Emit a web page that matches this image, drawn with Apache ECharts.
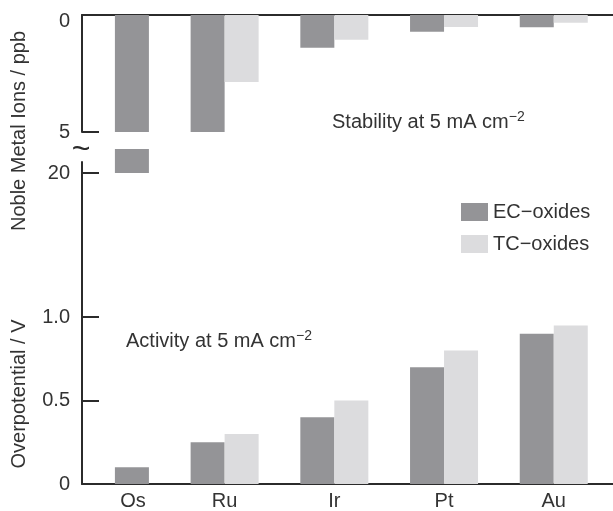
<!DOCTYPE html>
<html>
<head>
<meta charset="utf-8">
<script src="https://cdn.jsdelivr.net/npm/echarts@6/dist/echarts.min.js"></script>
</head>
<body style="margin:0">
<div id="main" style="width:613px;height:511px;"></div>
<script>
var categories = ['Os', 'Ru', 'Ir', 'Pt', 'Au'];
// dissolved noble metal ions, ppb (Os runs past the axis break)
var ecStability = [20, 5, 1.4, 0.72, 0.52];
var tcStability = [null, 2.86, 1.06, 0.51, 0.33];
// overpotential, V
var ecActivity = [0.1, 0.25, 0.4, 0.7, 0.9];
var tcActivity = [null, 0.3, 0.5, 0.8, 0.95];
var stabilityTicks = [0, 5];
var breakTicks = [20];
var activityTicks = [0, 0.5, 1];
var breakAt = 5;

var EC = '#949497', TC = '#dcdcde', INK = '#2b2b2b', TXT = '#333';
var FONT = 'Liberation Sans';
var chart = echarts.init(document.getElementById('main'));

// EC bar left, TC bar right; an EC bar with no TC partner takes the right slot
function pairData(ec, tc, pick) {
  var ecData = [], tcData = [];
  ec.forEach(function (v, i) {
    var a = pick(v);
    if (tc[i] == null) {
      if (a != null) tcData.push({ value: [i, a], itemStyle: { color: EC } });
      return;
    }
    var b = pick(tc[i]);
    if (a != null) ecData.push([i, a]);
    if (b != null) tcData.push([i, b]);
  });
  return [ecData, tcData];
}

function bars(d, idx) {
  return [
    { name: 'EC−oxides', type: 'bar', xAxisIndex: idx, yAxisIndex: idx, data: d[0],
      barWidth: 34, barGap: 0, itemStyle: { color: EC }, silent: true },
    { name: 'TC−oxides', type: 'bar', xAxisIndex: idx, yAxisIndex: idx, data: d[1],
      barWidth: 34, barGap: 0, itemStyle: { color: TC }, silent: true }
  ];
}

var below = function (v) { return Math.min(v, breakAt); };
var above = function (v) { return v > breakAt ? v : null; };
var same = function (v) { return v; };

var axisLine = { show: true, onZero: false, lineStyle: { color: INK, width: 2 } };
var tick = { show: true, inside: true, length: 17, lineStyle: { color: INK, width: 2 } };
var lbl = { fontSize: 20, color: TXT, fontFamily: FONT, margin: 12 };

function xAx(idx, extra) {
  return Object.assign({
    type: 'value', gridIndex: idx, min: -0.3, max: 4.54,
    axisLine: axisLine, axisTick: { show: false }, axisLabel: { show: false },
    splitLine: { show: false }
  }, extra);
}

var option = {
  animation: false,
  textStyle: { fontFamily: FONT },
  grid: [
    { left: 82, right: 0, top: 15, height: 117 },
    { left: 82, right: 0, top: 149, height: 24 },
    { left: 82, right: 0, top: 162, bottom: 25 }
  ],
  xAxis: [
    xAx(0, { position: 'top' }),
    xAx(1, { show: false }),
    xAx(2, {
      position: 'bottom',
      axisLabel: {
        show: true, fontSize: 20, color: TXT, fontFamily: FONT, margin: 7,
        customValues: [0, 1, 2, 3, 4],
        formatter: function (v) {
          var i = Math.round(v);
          return tcActivity[i] == null ? '{solo|' + categories[i] + '}' : categories[i];
        },
        rich: { solo: { fontSize: 20, color: TXT, fontFamily: FONT, padding: [0, 0, 0, 36] } }
      }
    })
  ],
  yAxis: [
    { type: 'value', gridIndex: 0, inverse: true, min: 0, max: 5, interval: 5,
      axisLine: axisLine, axisTick: tick, splitLine: { show: false },
      axisLabel: Object.assign({}, lbl, {
        customValues: stabilityTicks,
        formatter: function (v) { return v === 0 ? '{top|0}' : String(v); },
        rich: { top: { fontSize: 20, color: TXT, fontFamily: FONT, padding: [12, 0, 0, 0] } }
      }) },
    { type: 'value', gridIndex: 1, inverse: true, min: 19, max: 20,
      axisLine: { show: false, onZero: false }, splitLine: { show: false },
      axisTick: Object.assign({}, tick, { customValues: breakTicks }),
      axisLabel: Object.assign({}, lbl, { customValues: breakTicks }) },
    { type: 'value', gridIndex: 2, min: 0, max: 1.93,
      axisLine: axisLine, splitLine: { show: false },
      axisTick: Object.assign({}, tick, { customValues: activityTicks }),
      axisLabel: Object.assign({}, lbl, {
        customValues: activityTicks,
        formatter: function (v) { return v === 0 ? '0' : v.toFixed(1); }
      }) }
  ],
  legend: {
    data: ['EC−oxides', 'TC−oxides'], orient: 'vertical', left: 456, top: 197,
    itemWidth: 27, itemHeight: 18, itemGap: 12, icon: 'rect', selectedMode: false,
    textStyle: { fontSize: 20, color: TXT, fontFamily: FONT }
  },
  graphic: [
    { type: 'text', x: 81, y: 150, style: { text: '~', fill: INK,
      align: 'center', verticalAlign: 'middle', font: '32px ' + FONT } },
    { type: 'text', x: 19, y: 131, rotation: Math.PI / 2, style: { text: 'Noble Metal Ions / ppb',
      fill: TXT, align: 'center', verticalAlign: 'middle', font: '20px ' + FONT } },
    { type: 'text', x: 19, y: 394, rotation: Math.PI / 2, style: { text: 'Overpotential / V',
      fill: TXT, align: 'center', verticalAlign: 'middle', font: '20px ' + FONT } },
    { type: 'text', x: 332, y: 122, style: {
      text: '{t|Stability at 5 mA cm}{s|−2}', verticalAlign: 'middle',
      rich: { t: { fontSize: 20, lineHeight: 24, fill: TXT, fontFamily: FONT },
              s: { fontSize: 14, lineHeight: 14, verticalAlign: 'top', fill: TXT, fontFamily: FONT } } } },
    { type: 'text', x: 126, y: 341, style: {
      text: '{t|Activity at 5 mA cm}{s|−2}', verticalAlign: 'middle',
      rich: { t: { fontSize: 20, lineHeight: 24, fill: TXT, fontFamily: FONT },
              s: { fontSize: 14, lineHeight: 14, verticalAlign: 'top', fill: TXT, fontFamily: FONT } } } }
  ],
  series: [].concat(
    bars(pairData(ecStability, tcStability, below), 0),
    bars(pairData(ecStability, tcStability, above), 1),
    bars(pairData(ecActivity, tcActivity, same), 2)
  )
};
chart.setOption(option);
</script>
</body>
</html>
